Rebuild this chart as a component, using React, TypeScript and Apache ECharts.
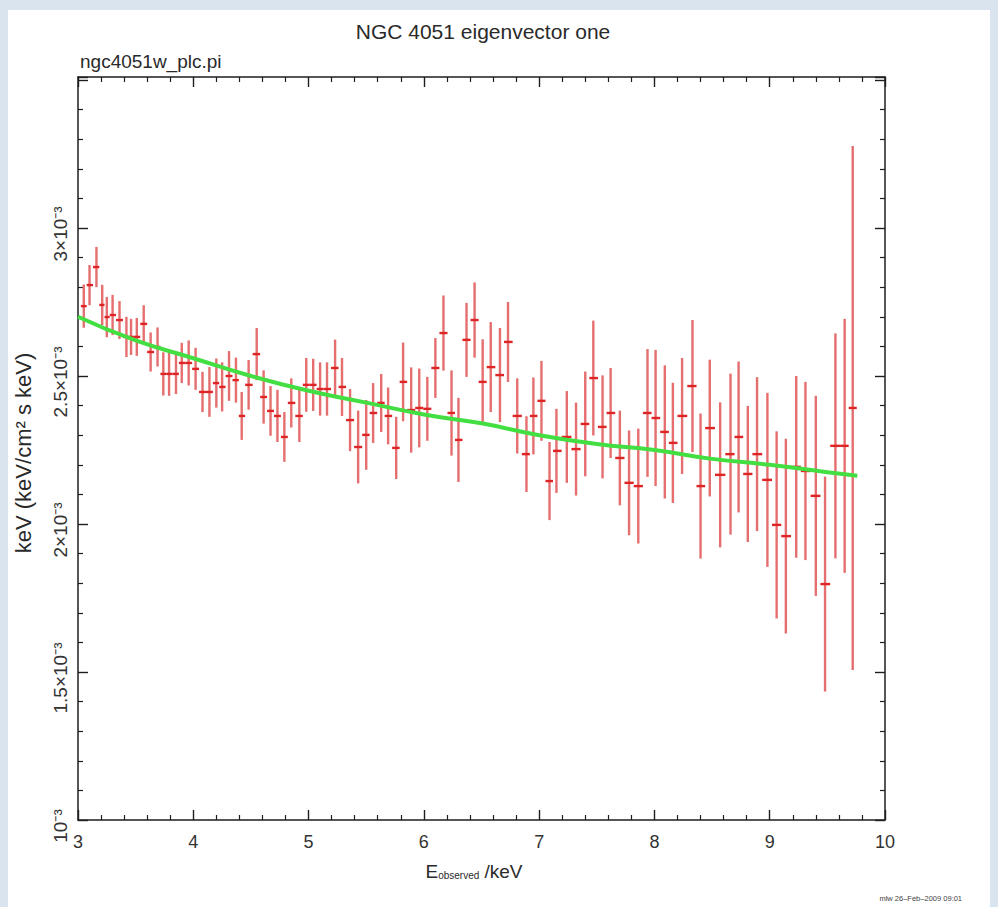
import React, { useEffect, useRef } from "react";
import * as echarts from "echarts";

const FONT = '"Liberation Sans", Arial, Helvetica, sans-serif';

// Spectrum bins: energy (keV) and E*F(E) in units of 1e-3 keV (keV/cm^2 s keV)
const energyKeV = [
  3.05, 3.10, 3.16, 3.21, 3.25, 3.30, 3.36, 3.42, 3.46, 3.51,
  3.57, 3.63, 3.69, 3.74, 3.79, 3.85, 3.90, 3.96, 4.02, 4.08,
  4.14, 4.20, 4.25, 4.31, 4.37, 4.42, 4.48, 4.55, 4.61, 4.67,
  4.73, 4.79, 4.85, 4.92, 4.98, 5.04, 5.10, 5.16, 5.23, 5.29,
  5.36, 5.43, 5.50, 5.56, 5.63, 5.69, 5.76, 5.82, 5.89, 5.96,
  6.03, 6.10, 6.17, 6.24, 6.30, 6.37, 6.44, 6.51, 6.58, 6.66,
  6.73, 6.81, 6.89, 6.95, 7.02, 7.09, 7.15, 7.24, 7.32, 7.40,
  7.47, 7.55, 7.62, 7.70, 7.78, 7.86, 7.94, 8.01, 8.09, 8.16,
  8.24, 8.33, 8.40, 8.48, 8.57, 8.66, 8.73, 8.81, 8.89, 8.98,
  9.06, 9.14, 9.23, 9.31, 9.40, 9.48, 9.57, 9.65, 9.72,
];

const fluxE3 = [
  2.736, 2.807, 2.868, 2.740, 2.699, 2.706, 2.689, 2.632, 2.632, 2.632,
  2.676, 2.581, 2.598, 2.507, 2.507, 2.507, 2.544, 2.544, 2.524, 2.446,
  2.446, 2.476, 2.463, 2.500, 2.486, 2.365, 2.470, 2.574, 2.429, 2.382,
  2.365, 2.294, 2.409, 2.365, 2.470, 2.470, 2.456, 2.456, 2.527, 2.463,
  2.351, 2.260, 2.301, 2.375, 2.409, 2.365, 2.257, 2.480, 2.385, 2.392,
  2.389, 2.527, 2.645, 2.375, 2.284, 2.622, 2.689, 2.480, 2.530, 2.503,
  2.615, 2.365, 2.236, 2.365, 2.416, 2.145, 2.247, 2.294, 2.253, 2.338,
  2.493, 2.328, 2.375, 2.223, 2.139, 2.128, 2.375, 2.358, 2.311, 2.274,
  2.365, 2.466, 2.128, 2.324, 2.166, 2.236, 2.294, 2.169, 2.236, 2.149,
  1.997, 1.959, 2.193, 2.179, 2.095, 1.797, 2.264, 2.264, 2.392,
];

const fluxErrE3 = [
  0.073, 0.068, 0.068, 0.068, 0.068, 0.068, 0.064, 0.068, 0.061, 0.064,
  0.063, 0.066, 0.066, 0.073, 0.074, 0.068, 0.068, 0.076, 0.071, 0.068,
  0.084, 0.083, 0.083, 0.084, 0.076, 0.081, 0.084, 0.088, 0.090, 0.084,
  0.088, 0.084, 0.083, 0.088, 0.091, 0.088, 0.090, 0.090, 0.096, 0.098,
  0.105, 0.123, 0.118, 0.101, 0.098, 0.096, 0.105, 0.133, 0.144, 0.133,
  0.108, 0.101, 0.127, 0.144, 0.142, 0.125, 0.127, 0.144, 0.152, 0.159,
  0.135, 0.127, 0.128, 0.130, 0.135, 0.132, 0.142, 0.155, 0.157, 0.177,
  0.194, 0.174, 0.152, 0.160, 0.177, 0.194, 0.216, 0.230, 0.225, 0.203,
  0.196, 0.223, 0.245, 0.231, 0.245, 0.272, 0.255, 0.230, 0.260, 0.294,
  0.316, 0.329, 0.307, 0.301, 0.338, 0.363, 0.380, 0.429, 0.885,
];

// Model (green)
const modelEnergyKeV = [3.0, 3.5, 4.0, 4.5, 5.0, 5.5, 6.0, 6.5, 7.0, 7.5, 8.0, 8.5, 9.0, 9.5, 9.76];
const modelFluxE3 = [2.70, 2.62, 2.56, 2.50, 2.45, 2.41, 2.37, 2.34, 2.30, 2.27, 2.25, 2.22, 2.20, 2.175, 2.163];

const yTickValues = [1, 1.5, 2, 2.5, 3];
const yTickLabels = ["10⁻³", "1.5×10⁻³", "2×10⁻³", "2.5×10⁻³", "3×10⁻³"];

const TITLE = "NGC 4051 eigenvector one";
const FILE_LABEL = "ngc4051w_plc.pi";
const Y_NAME = "keV (keV/cm² s keV)";
const STAMP = "mlw 26–Feb–2009 09:01";

export default function App() {
  const ref = useRef<HTMLDivElement>(null);

  useEffect(() => {
    if (!ref.current) return;
    const chart = echarts.init(ref.current, null, { renderer: "svg" });

    const n = energyKeV.length;
    const points = energyKeV.map((e, i) => {
      const prev = i > 0 ? energyKeV[i - 1] : e - (energyKeV[1] - energyKeV[0]);
      const next = i < n - 1 ? energyKeV[i + 1] : e + (energyKeV[n - 1] - energyKeV[n - 2]);
      return [e, fluxE3[i], fluxErrE3[i], (prev + e) / 2, (e + next) / 2];
    });

    const axisColor = "#1e1e1e";
    const xBase: any = {
      type: "value",
      min: 3,
      max: 10,
      interval: 1,
      axisLine: { show: true, onZero: false, lineStyle: { color: axisColor, width: 1.5 } },
      axisTick: { show: true, inside: true, length: 10, lineStyle: { color: axisColor, width: 1.4 } },
      minorTick: { show: true, splitNumber: 5, length: 5, lineStyle: { color: axisColor, width: 1.2 } },
      splitLine: { show: false },
      minorSplitLine: { show: false },
    };
    const yBase: any = {
      type: "value",
      min: 1,
      max: 3.51,
      interval: 0.5,
      axisLine: { show: true, onZero: false, lineStyle: { color: axisColor, width: 1.5 } },
      axisTick: { show: true, inside: true, length: 10, lineStyle: { color: axisColor, width: 1.4 } },
      minorTick: { show: true, splitNumber: 5, length: 5, lineStyle: { color: axisColor, width: 1.2 } },
      splitLine: { show: false },
      minorSplitLine: { show: false },
    };

    const option: any = {
      animation: false,
      backgroundColor: "transparent",
      grid: { left: 78, right: 113, top: 77, bottom: 87, containLabel: false },
      xAxis: [
        {
          ...xBase,
          position: "bottom",
          axisLabel: {
            show: true,
            fontSize: 18,
            color: "#333",
            fontFamily: FONT,
            margin: 13,
            formatter: (v: number) => String(v),
          },
        },
        { ...xBase, position: "top", axisLabel: { show: false } },
      ],
      yAxis: [
        {
          ...yBase,
          position: "left",
          axisLabel: {
            show: true,
            rotate: 90,
            fontSize: 19,
            color: "#333",
            fontFamily: FONT,
            margin: 8,
            padding: [0, 12, 0, 0],
            showMaxLabel: false,
            formatter: (v: number) => {
              const idx = yTickValues.findIndex((t) => Math.abs(t - v) < 1e-6);
              return idx >= 0 ? yTickLabels[idx] : "";
            },
          },
        },
        { ...yBase, position: "right", axisLabel: { show: false } },
      ],
      series: [
        {
          type: "custom",
          name: "data",
          xAxisIndex: 0,
          yAxisIndex: 0,
          data: points,
          encode: { x: 0, y: 1 },
          renderItem: (params: any, api: any) => {
            const x = api.value(0);
            const y = api.value(1);
            const e = api.value(2);
            const lo = api.value(3);
            const hi = api.value(4);
            const top = api.coord([x, y + e]);
            const bot = api.coord([x, y - e]);
            const l = api.coord([lo, y]);
            const r = api.coord([hi, y]);
            return {
              type: "group",
              children: [
                {
                  type: "line",
                  shape: { x1: top[0], y1: top[1], x2: bot[0], y2: bot[1] },
                  style: { stroke: "#e56e6e", lineWidth: 2.4 },
                },
                {
                  type: "line",
                  shape: { x1: l[0], y1: l[1], x2: r[0], y2: r[1] },
                  style: { stroke: "#de2424", lineWidth: 2.4 },
                },
              ],
            };
          },
          z: 2,
        },
        {
          type: "line",
          name: "model",
          xAxisIndex: 0,
          yAxisIndex: 0,
          data: modelEnergyKeV.map((e, i) => [e, modelFluxE3[i]]),
          smooth: true,
          showSymbol: false,
          symbol: "none",
          lineStyle: { color: "#42de42", width: 4 },
          z: 3,
        },
      ],
      graphic: [
        {
          type: "text",
          x: 483,
          y: 31,
          style: {
            text: TITLE,
            fontSize: 21,
            fontFamily: FONT,
            fill: "#2a2a2a",
            align: "center",
            verticalAlign: "middle",
          },
        },
        {
          type: "text",
          x: 80,
          y: 61,
          style: {
            text: FILE_LABEL,
            fontSize: 19,
            fontFamily: FONT,
            fill: "#2a2a2a",
            align: "left",
            verticalAlign: "middle",
          },
        },
        {
          type: "text",
          x: 23,
          y: 453,
          rotation: Math.PI / 2,
          style: {
            text: Y_NAME,
            fontSize: 22,
            fontFamily: FONT,
            fill: "#2a2a2a",
            align: "center",
            verticalAlign: "middle",
          },
        },
        {
          type: "text",
          x: 474,
          y: 871,
          style: {
            text: "E{sub|observed} /keV",
            fontSize: 19,
            fontFamily: FONT,
            fill: "#2a2a2a",
            align: "center",
            verticalAlign: "middle",
            rich: {
              sub: {
                fontSize: 10,
                fontFamily: FONT,
                fill: "#2a2a2a",
                verticalAlign: "bottom",
                lineHeight: 10,
              },
            },
          },
        },
        {
          type: "text",
          x: 962,
          y: 898,
          style: {
            text: STAMP,
            fontSize: 7.5,
            fontFamily: FONT,
            fill: "#444",
            align: "right",
            verticalAlign: "middle",
          },
        },
      ],
    };

    chart.setOption(option);
    return () => chart.dispose();
  }, []);

  return (
    <div
      style={{
        position: "absolute",
        left: 0,
        top: 0,
        width: 998,
        height: 907,
        background: "#d9e4ee",
        overflow: "hidden",
      }}
    >
      <div style={{ position: "absolute", left: 8, top: 10, width: 982, height: 897, background: "#ffffff" }} />
      <div ref={ref} style={{ position: "absolute", left: 0, top: 0, width: 998, height: 907 }} />
    </div>
  );
}
